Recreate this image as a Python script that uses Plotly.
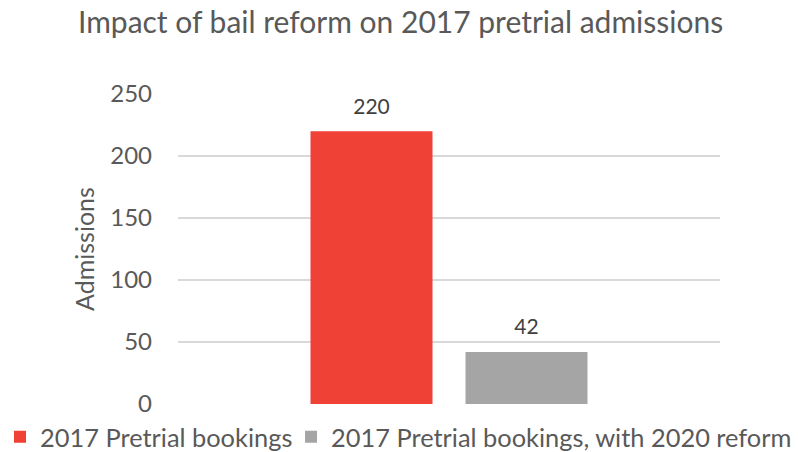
import plotly.graph_objects as go

categories = ["2017"]
series_names = ["2017 Pretrial bookings", "2017 Pretrial bookings, with 2020 reform"]
series_values = [[220], [42]]
series_colors = ["#EF4136", "#A5A5A5"]
y_ticks = [0, 50, 100, 150, 200, 250]

FONT = "Lato, Open Sans, sans-serif"
legend_ids = ["legend", "legend2"]

fig = go.Figure()
for i, (name, vals, col) in enumerate(zip(series_names, series_values, series_colors)):
    fig.add_trace(go.Bar(
        x=categories, y=vals, name=name, offsetgroup=str(i), legend=legend_ids[i],
        marker=dict(color=col, line=dict(width=0)), hoverinfo="y",
    ))
for i, vals in enumerate(series_values):
    fig.add_trace(go.Scatter(
        x=categories, y=vals, offsetgroup=str(i), mode="markers+text",
        text=[str(v) for v in vals], textposition="top center",
        marker=dict(size=18, opacity=0), showlegend=False, hoverinfo="skip",
        cliponaxis=False,
        textfont=dict(family=FONT, size=21, color="#404040"),
    ))

legend_style = dict(orientation="h", xref="container", yref="container",
                    xanchor="left", y=0.0846, yanchor="top",
                    font=dict(family=FONT, size=25.4, color="#595959"),
                    itemwidth=30, tracegroupgap=0, bgcolor="rgba(0,0,0,0)")

fig.update_layout(
    width=798, height=452,
    margin=dict(l=178, r=78, t=94, b=48, autoexpand=False),
    paper_bgcolor="white", plot_bgcolor="white",
    barmode="group", bargap=0.428, bargroupgap=0.213,
    scattermode="group", scattergap=0.428,
    title=dict(text="Impact of bail reform on 2017 pretrial admissions",
               x=0.502, xanchor="center", y=0.951, yanchor="middle",
               font=dict(family=FONT, size=30, color="#595959")),
    font=dict(family=FONT, color="#595959"),
    xaxis=dict(showticklabels=False, showgrid=False, zeroline=False, showline=False),
    yaxis=dict(range=[0, 250], tickvals=y_ticks, showgrid=True, gridcolor="#D9D9D9",
               gridwidth=1.5, zeroline=False, showline=False,
               tickfont=dict(family=FONT, size=24, color="#595959"), ticks="",
               ticklabelstandoff=25,
               title=dict(text="Admissions", font=dict(family=FONT, size=25, color="#595959"), standoff=8)),
    legend=dict(x=-0.0038, **legend_style),
    legend2=dict(x=0.3647, **legend_style),
    showlegend=True,
)

fig.write_html("out.html")
